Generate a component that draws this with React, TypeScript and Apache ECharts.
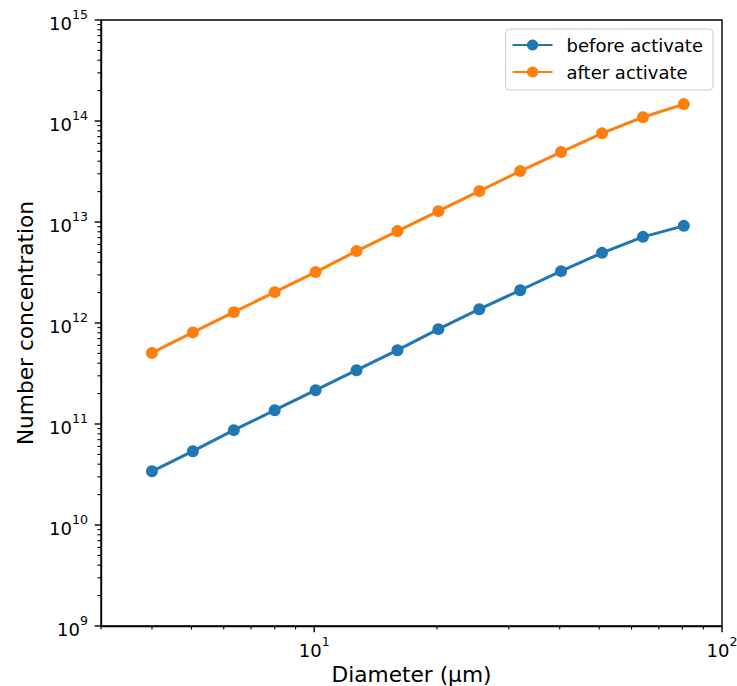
import React, { useEffect, useRef } from "react";
import * as echarts from "echarts";

const diameters = [4, 5.04, 6.35, 8, 10.08, 12.7, 16, 20.16, 25.4, 32, 40.3, 50.8, 64, 80.6];
const beforeActivate = [3.40e10, 5.38e10, 8.69e10, 1.37e11, 2.16e11, 3.41e11, 5.38e11, 8.69e11, 1.37e12, 2.11e12, 3.26e12, 4.95e12, 7.13e12, 9.16e12];
const afterActivate = [5.06e11, 8.07e11, 1.28e12, 2.02e12, 3.19e12, 5.15e12, 8.13e12, 1.28e13, 2.02e13, 3.19e13, 4.92e13, 7.55e13, 1.09e14, 1.47e14];

const X_MIN = 3;
const X_MAX = 100;
const Y_MIN = 1e9;
const Y_MAX = 1e15;
const xMajorTicks = [10, 100];
const xMinorTicks = [3, 4, 5, 6, 7, 8, 9, 20, 30, 40, 50, 60, 70, 80, 90];
const yMajorTicks = [1e9, 1e10, 1e11, 1e12, 1e13, 1e14, 1e15];
const yMinorMultipliers = [2, 3, 4, 5, 6, 7, 8, 9];

const FONT = "DejaVu Sans";

function supLabel(v: number): string {
  const e = Math.log10(v);
  const r = Math.round(e);
  if (Math.abs(e - r) > 1e-6) return "";
  return "{b|10}{s|" + r + "}";
}

const richSup = {
  b: { fontSize: 18, fontFamily: FONT, color: "#000", lineHeight: 24, verticalAlign: "bottom" },
  s: { fontSize: 12.6, fontFamily: FONT, color: "#000", lineHeight: 14, verticalAlign: "top" },
};

export default function App() {
  const ref = useRef<HTMLDivElement>(null);
  useEffect(() => {
    if (!ref.current) return;
    const chart = echarts.init(ref.current, undefined, { renderer: "svg" });

    const xTickData: number[][] = [
      ...xMajorTicks.map((v) => [v, Y_MIN, 1]),
      ...xMinorTicks.map((v) => [v, Y_MIN, 0]),
    ];
    const yTickData: number[][] = [...yMajorTicks.map((v) => [X_MIN, v, 1])];
    for (let d = 9; d < 15; d++) {
      for (const m of yMinorMultipliers) yTickData.push([X_MIN, m * Math.pow(10, d), 0]);
    }

    chart.setOption({
      animation: false,
      backgroundColor: "#fff",
      grid: {
        left: 101,
        right: 15,
        top: 20,
        bottom: 60,
        containLabel: false,
        outerBoundsMode: "none",
        show: true,
        borderColor: "#000",
        borderWidth: 1.4,
        backgroundColor: "transparent",
      },
      legend: {
        data: ["before activate", "after activate"],
        orient: "vertical",
        right: 24,
        top: 29,
        itemWidth: 40,
        itemHeight: 14,
        itemGap: 7,
        padding: [6, 10, 8, 6],
        backgroundColor: "rgba(255,255,255,0.8)",
        borderColor: "#cccccc",
        borderWidth: 1,
        borderRadius: 4,
        textStyle: { fontSize: 18, fontFamily: FONT, color: "#000", lineHeight: 20, padding: [0, 0, 0, 9] },
      },
      xAxis: {
        type: "log",
        logBase: 10,
        min: X_MIN,
        max: X_MAX,
        name: "Diameter (µm)",
        nameLocation: "middle",
        nameGap: 36,
        nameTextStyle: { fontSize: 21.7, fontFamily: FONT, color: "#000", lineHeight: 22 },
        axisLine: { show: true, lineStyle: { color: "#000", width: 1.4 } },
        axisTick: { show: false },
        splitLine: { show: false },
        minorTick: { show: false },
        axisLabel: { margin: 9, formatter: supLabel, rich: richSup },
      },
      yAxis: {
        type: "log",
        logBase: 10,
        min: Y_MIN,
        max: Y_MAX,
        name: "Number concentration",
        nameLocation: "middle",
        nameGap: 63,
        nameTextStyle: { fontSize: 21.7, fontFamily: FONT, color: "#000", lineHeight: 26 },
        axisLine: { show: true, lineStyle: { color: "#000", width: 1.4 } },
        axisTick: { show: false },
        splitLine: { show: false },
        minorTick: { show: false },
        axisLabel: { margin: 13, formatter: supLabel, rich: richSup },
      },
      series: [
        {
          name: "before activate",
          type: "line",
          data: diameters.map((d, i) => [d, beforeActivate[i]]),
          symbol: "circle",
          symbolSize: 12,
          lineStyle: { color: "#1f77b4", width: 3 },
          itemStyle: { color: "#1f77b4" },
        },
        {
          name: "after activate",
          type: "line",
          data: diameters.map((d, i) => [d, afterActivate[i]]),
          symbol: "circle",
          symbolSize: 12,
          lineStyle: { color: "#ff7f0e", width: 3 },
          itemStyle: { color: "#ff7f0e" },
        },
        {
          name: "xticks",
          type: "custom",
          silent: true,
          clip: false,
          data: xTickData,
          encode: { x: 0, y: 1 },
          renderItem: (params: any, api: any) => {
            const p = api.coord([api.value(0), api.value(1)]);
            const major = api.value(2) === 1;
            return {
              type: "line",
              shape: { x1: p[0], y1: p[1], x2: p[0], y2: p[1] + (major ? 6.3 : 3.6) },
              style: { stroke: "#000", lineWidth: major ? 1.4 : 1.1 },
            };
          },
        },
        {
          name: "yticks",
          type: "custom",
          silent: true,
          clip: false,
          data: yTickData,
          encode: { x: 0, y: 1 },
          renderItem: (params: any, api: any) => {
            const p = api.coord([api.value(0), api.value(1)]);
            const major = api.value(2) === 1;
            return {
              type: "line",
              shape: { x1: p[0], y1: p[1], x2: p[0] - (major ? 6.3 : 3.6), y2: p[1] },
              style: { stroke: "#000", lineWidth: major ? 1.4 : 1.1 },
            };
          },
        },
      ],
    });
    return () => chart.dispose();
  }, []);
  return (
    <div
      ref={ref}
      style={{ width: 737, height: 686, position: "absolute", left: 0, top: 0, background: "#fff" }}
    />
  );
}
